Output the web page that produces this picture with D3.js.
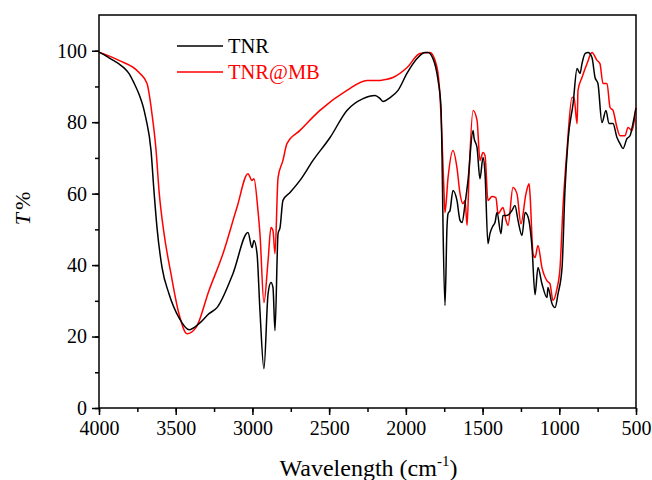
<!DOCTYPE html>
<html>
<head>
<meta charset="utf-8">
<script src="https://cdn.jsdelivr.net/npm/d3@7"></script>
<style>
  body { margin: 0; background: #fff; }
  svg { display: block; }
  svg text { font-family: "Liberation Serif", "Times New Roman", Times, serif; }
</style>
</head>
<body>
<div id="chart"></div>
<script>
// FTIR spectra, wavenumber (cm-1) vs transmittance (%)
const seriesNames = ["TNR", "TNR@MB"];
const seriesColors = ["#000000", "#ff0000"];

const tnrWave = [4000, 3968, 3935, 3903, 3870, 3837, 3804, 3772, 3739, 3713, 3694, 3661, 3642, 3622, 3589, 3544, 3479, 3413, 3348, 3283, 3231, 3127, 3029, 3003, 2990, 2970, 2951, 2925, 2898, 2879, 2866, 2853, 2833, 2820, 2801, 2755, 2690, 2605, 2494, 2384, 2279, 2201, 2168, 2149, 2103, 2051, 1992, 1927, 1875, 1856, 1823, 1790, 1771, 1764, 1758, 1745, 1732, 1725, 1712, 1693, 1667, 1647, 1634, 1614, 1595, 1562, 1556, 1536, 1517, 1497, 1484, 1465, 1452, 1432, 1419, 1406, 1380, 1367, 1341, 1308, 1289, 1269, 1243, 1223, 1204, 1178, 1158, 1139, 1113, 1080, 1074, 1047, 1028, 1008, 982, 963, 943, 910, 884, 865, 852, 832, 813, 787, 767, 748, 722, 696, 676, 650, 624, 604, 585, 559, 539, 520, 500];
const tnrT = [99.6, 98.9, 98.0, 97.2, 96.3, 95.2, 93.6, 91.0, 87.8, 84.5, 81.0, 72.1, 60.9, 50.5, 39.3, 32.0, 25.3, 21.9, 23.6, 26.4, 28.1, 37.6, 49.1, 44.9, 46.9, 43.2, 27.3, 11.0, 32.0, 35.1, 33.7, 21.7, 48.8, 50.5, 58.1, 60.3, 63.7, 69.3, 75.7, 83.3, 86.6, 87.5, 86.6, 85.8, 86.9, 88.9, 93.7, 97.8, 99.5, 99.5, 97.8, 91.7, 84.1, 70.1, 51.6, 28.7, 50.5, 54.4, 55.3, 60.9, 58.1, 52.5, 51.9, 57.2, 63.7, 77.7, 75.7, 72.9, 64.2, 70.1, 65.6, 46.0, 48.8, 51.0, 51.9, 54.7, 48.8, 53.9, 53.9, 55.3, 56.7, 52.5, 48.3, 54.7, 53.5, 45.1, 31.7, 39.3, 34.8, 30.9, 33.7, 29.2, 28.1, 32.0, 39.3, 60.9, 74.9, 85.2, 95.0, 93.6, 96.4, 99.2, 99.5, 98.1, 92.5, 90.8, 79.9, 83.3, 79.6, 79.6, 75.7, 74.0, 72.6, 75.4, 76.2, 79.6, 84.0];

const mbWave = [4000, 3870, 3739, 3687, 3655, 3628, 3609, 3576, 3531, 3479, 3426, 3368, 3283, 3192, 3101, 3029, 3003, 2990, 2964, 2951, 2925, 2898, 2879, 2866, 2853, 2833, 2801, 2775, 2690, 2560, 2384, 2253, 2168, 2123, 2084, 1992, 1908, 1843, 1797, 1777, 1764, 1751, 1745, 1725, 1693, 1667, 1647, 1628, 1614, 1601, 1588, 1562, 1536, 1517, 1497, 1484, 1465, 1439, 1413, 1399, 1367, 1347, 1334, 1302, 1276, 1250, 1217, 1197, 1191, 1171, 1158, 1139, 1113, 1080, 1061, 1041, 1015, 995, 976, 950, 917, 904, 884, 878, 852, 819, 787, 754, 735, 715, 689, 669, 650, 624, 604, 572, 552, 526, 500];
const mbT = [99.6, 97.3, 93.9, 90.8, 82.4, 72.1, 60.9, 48.8, 37.6, 26.4, 20.8, 22.5, 32.9, 43.2, 56.1, 65.6, 63.7, 64.2, 55.3, 48.8, 29.5, 41.3, 50.5, 49.6, 43.2, 64.5, 69.3, 74.0, 77.7, 83.3, 88.9, 91.7, 91.7, 92.0, 92.5, 95.3, 99.2, 99.5, 95.3, 86.9, 74.9, 60.0, 54.7, 64.5, 72.1, 67.3, 60.0, 57.2, 58.1, 51.1, 65.6, 83.3, 80.5, 69.3, 71.5, 70.7, 58.1, 59.2, 58.9, 54.4, 56.1, 52.5, 51.1, 61.7, 60.0, 51.6, 60.0, 62.8, 60.0, 43.2, 42.1, 45.5, 39.3, 35.6, 34.8, 30.1, 33.4, 39.3, 56.1, 72.1, 86.9, 86.9, 79.6, 88.9, 92.5, 96.4, 99.5, 97.3, 96.4, 90.8, 90.8, 84.1, 83.3, 78.5, 76.2, 76.2, 78.5, 77.7, 84.1];

const xTicks = [4000, 3500, 3000, 2500, 2000, 1500, 1000, 500];
const yTicks = [0, 20, 40, 60, 80, 100];

const width = 652, height = 480;
const margin = { top: 15, right: 16, bottom: 72, left: 99 };

const svg = d3.select("#chart").append("svg")
  .attr("width", width)
  .attr("height", height);

const x = d3.scaleLinear().domain([4000, 500]).range([margin.left, width - margin.right]);
const y = d3.scaleLinear().domain([0, 110]).range([height - margin.bottom, margin.top]);

// frame
svg.append("rect")
  .attr("x", margin.left).attr("y", margin.top)
  .attr("width", width - margin.left - margin.right)
  .attr("height", height - margin.top - margin.bottom)
  .attr("fill", "none").attr("stroke", "#000").attr("stroke-width", 1.5);

// x axis: minor + major ticks
const xAxisG = svg.append("g").attr("transform", `translate(0,${height - margin.bottom})`);
xAxisG.call(d3.axisBottom(x).tickValues(d3.range(4000, 499, -250)).tickSize(4).tickFormat(""))
  .call(g => g.select(".domain").remove());
xAxisG.append("g")
  .call(d3.axisBottom(x).tickValues(xTicks).tickSize(7).tickPadding(6).tickFormat(d3.format("d")))
  .call(g => g.select(".domain").remove())
  .call(g => g.selectAll("text").attr("font-size", 20).attr("fill", "#000"));
xAxisG.selectAll("line").attr("stroke-width", 1.5);

// y axis
const yAxisG = svg.append("g").attr("transform", `translate(${margin.left},0)`);
yAxisG.call(d3.axisLeft(y).tickValues(d3.range(0, 101, 10)).tickSize(4).tickFormat(""))
  .call(g => g.select(".domain").remove());
yAxisG.append("g")
  .call(d3.axisLeft(y).tickValues(yTicks).tickSize(7).tickPadding(5).tickFormat(d3.format("d")))
  .call(g => g.select(".domain").remove())
  .call(g => g.selectAll("text").attr("font-size", 20).attr("fill", "#000"));
yAxisG.selectAll("line").attr("stroke-width", 1.5);

// axis titles
const xTitle = svg.append("text")
  .attr("x", (margin.left + width - margin.right) / 2 + 1)
  .attr("y", 476)
  .attr("text-anchor", "middle")
  .attr("font-size", 24);
xTitle.append("tspan").text("Wavelength (cm");
xTitle.append("tspan").attr("font-size", 15).attr("dy", -10).text("-1");
xTitle.append("tspan").attr("dy", 10).text(")");

const yTitle = svg.append("text")
  .attr("transform", `translate(30,${(margin.top + height - margin.bottom) / 2 - 3}) rotate(-90)`)
  .attr("text-anchor", "middle")
  .attr("font-size", 22);
yTitle.append("tspan").attr("font-style", "italic").text("T");
yTitle.append("tspan").attr("dx", 3).text("%");

// spectra
const line = d3.line()
  .x(d => x(d[0]))
  .y(d => y(d[1]))
  .curve(d3.curveMonotoneX);

const series = [
  d3.zip(tnrWave, tnrT),
  d3.zip(mbWave, mbT)
];

[1, 0].forEach(i => {
  svg.append("path")
    .datum(series[i])
    .attr("fill", "none")
    .attr("stroke", seriesColors[i])
    .attr("stroke-width", 1.5)
    .attr("stroke-linejoin", "round")
    .attr("d", line);
});

// legend
const legend = svg.append("g").attr("transform", "translate(177,46)");
seriesNames.forEach((name, i) => {
  const g = legend.append("g").attr("transform", `translate(0,${i * 26})`);
  g.append("line").attr("x1", 0).attr("x2", 46)
    .attr("stroke", seriesColors[i]).attr("stroke-width", 1.5);
  g.append("text").attr("x", 51).attr("y", 7)
    .attr("font-size", 20.5).attr("fill", seriesColors[i]).text(name);
});
</script>
</body>
</html>
